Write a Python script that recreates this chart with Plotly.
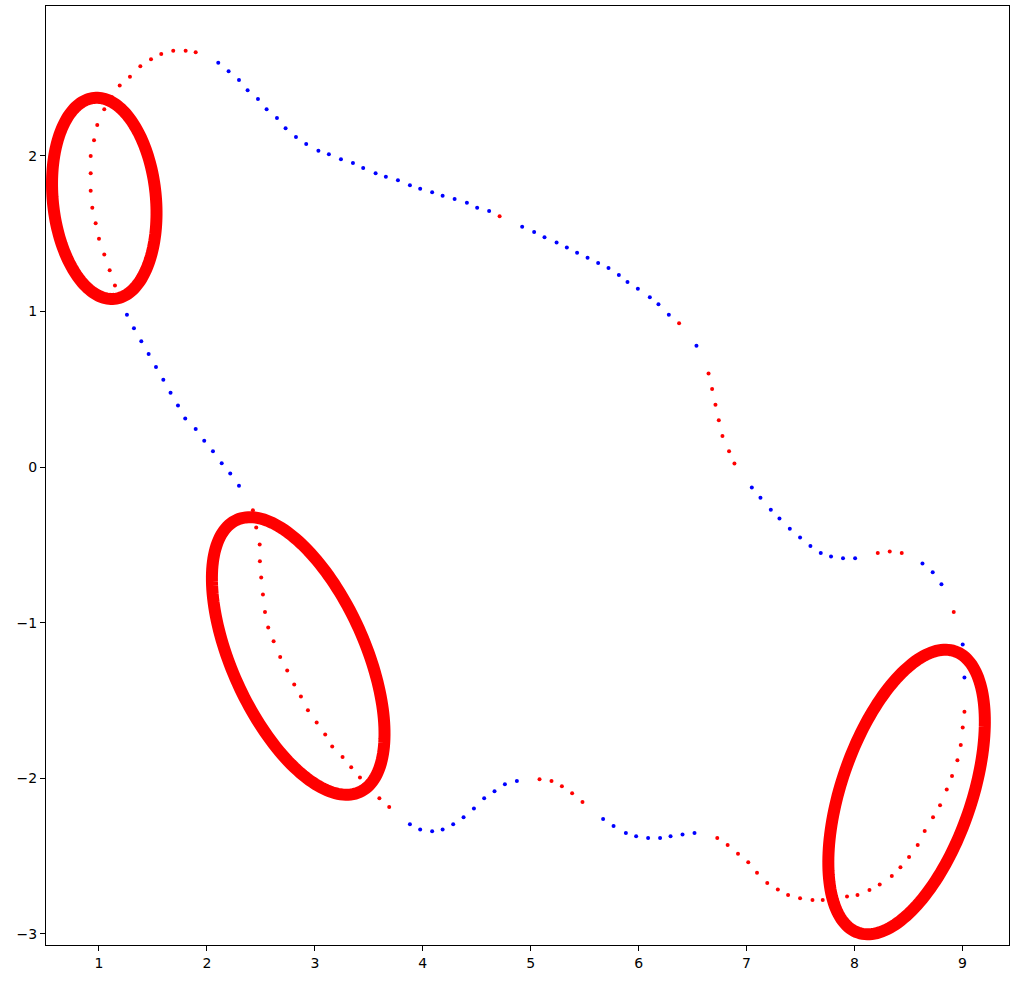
import numpy as np
import plotly.graph_objects as go

# ---------------- data ----------------
red_x = [1.896, 1.803, 1.688, 1.577, 1.482, 1.383, 1.287, 1.192, 1.120, 1.049,
         0.984, 0.954, 0.923, 0.923, 0.923, 0.938, 0.969, 1.000, 1.049, 1.099, 1.148,
         4.712, 6.375,
         6.648, 6.681, 6.712, 6.743, 6.777, 6.838, 6.888,
         8.216, 8.327, 8.438, 8.920,
         9.019, 9.003, 8.985, 8.954, 8.904, 8.855, 8.793, 8.728, 8.651, 8.586,
         8.506, 8.426, 8.346, 8.234, 8.139, 8.028, 7.931, 7.818, 7.706, 7.611,
         7.496, 7.385, 7.290, 7.192, 7.097, 7.016, 6.921, 6.825, 6.729,
         5.082, 5.193, 5.289, 5.384, 5.480,
         2.426, 2.457, 2.489, 2.491, 2.503, 2.519, 2.538, 2.568, 2.618, 2.679,
         2.744, 2.809, 2.871, 2.936, 3.017, 3.096, 3.161, 3.257, 3.337, 3.418,
         3.504, 3.598, 3.689]
red_y = [2.665, 2.675, 2.675, 2.654, 2.620, 2.575, 2.508, 2.452, 2.375, 2.298,
         2.197, 2.099, 1.998, 1.887, 1.775, 1.666, 1.566, 1.467, 1.366, 1.265, 1.167,
         1.611, 0.923,
         0.601, 0.501, 0.400, 0.301, 0.200, 0.102, 0.023,
         -0.553, -0.543, -0.553, -0.931,
         -1.573, -1.674, -1.786, -1.884, -1.985, -2.072, -2.173, -2.250, -2.338, -2.428,
         -2.505, -2.572, -2.627, -2.683, -2.717, -2.750, -2.760, -2.779, -2.782, -2.782,
         -2.771, -2.750, -2.715, -2.672, -2.606, -2.539, -2.484, -2.428, -2.383,
         -2.006, -2.017, -2.051, -2.096, -2.152,
         -0.277, -0.388, -0.498, -0.605, -0.710, -0.819, -0.931, -1.031, -1.119, -1.220,
         -1.307, -1.397, -1.474, -1.562, -1.642, -1.719, -1.796, -1.863, -1.929, -1.995,
         -2.062, -2.128, -2.184]

blue_x = [2.105, 2.201, 2.297, 2.377, 2.473, 2.553, 2.649, 2.729, 2.825, 2.920,
          3.033, 3.130, 3.242, 3.353, 3.448, 3.563, 3.658, 3.770, 3.881, 3.976,
          4.087, 4.184, 4.295, 4.409, 4.504, 4.615,
          4.921, 5.032, 5.128, 5.240, 5.335, 5.430, 5.527, 5.625, 5.721, 5.817,
          5.897, 5.993, 6.104, 6.184, 6.280, 6.536,
          7.049, 7.129, 7.225, 7.305, 7.401, 7.496, 7.592, 7.688, 7.783, 7.894, 8.006,
          8.630, 8.725, 8.806, 9.003, 9.010, 9.019,
          3.881, 3.976, 4.087, 4.184, 4.282, 4.378, 4.474, 4.569, 4.665, 4.761, 4.872,
          5.671, 5.768, 5.882, 5.977, 6.088, 6.199, 6.296, 6.407, 6.518,
          1.259, 1.324, 1.392, 1.460, 1.528, 1.596, 1.663, 1.732, 1.799, 1.896,
          1.975, 2.056, 2.137, 2.216, 2.297]
blue_y = [2.598, 2.542, 2.487, 2.420, 2.364, 2.298, 2.242, 2.176, 2.120, 2.075,
          2.032, 2.009, 1.977, 1.953, 1.921, 1.887, 1.865, 1.842, 1.810, 1.788,
          1.765, 1.743, 1.722, 1.698, 1.666, 1.645,
          1.544, 1.510, 1.477, 1.443, 1.411, 1.377, 1.344, 1.310, 1.278, 1.233,
          1.188, 1.145, 1.090, 1.045, 0.978, 0.779,
          -0.131, -0.198, -0.275, -0.330, -0.397, -0.453, -0.508, -0.553, -0.575, -0.586, -0.586,
          -0.620, -0.676, -0.753, -1.140, -1.243, -1.352,
          -2.295, -2.329, -2.340, -2.329, -2.295, -2.250, -2.194, -2.128, -2.083, -2.038, -2.017,
          -2.261, -2.306, -2.351, -2.372, -2.383, -2.383, -2.372, -2.361, -2.351,
          0.978, 0.891, 0.808, 0.726, 0.643, 0.560, 0.477, 0.395, 0.312, 0.245,
          0.168, 0.102, 0.025, -0.041, -0.121]

x_ticks = [1, 2, 3, 4, 5, 6, 7, 8, 9]
y_ticks = [-3, -2, -1, 0, 1, 2]
y_ticktext = ["\u22123", "\u22122", "\u22121", "0", "1", "2"]

# annotation ellipses: centre (data units), semi-axes (px), tilt in degrees (+ = top leans left)
ell_cx = [1.049, 2.846, 8.483]
ell_cy = [1.726, -1.214, -2.088]
ell_a = [101.0, 149.3, 148.8]
ell_b = [51.5, 66.5, 65.0]
ell_tilt = [5.8, 24.3, -19.0]

# ---------------- layout geometry ----------------
W, H = 1026, 984
ML, MR, MT, MB = 46, 17, 6, 39
XR = [0.509, 9.432]
YR = [-3.071, 2.962]
px_x = (W - ML - MR) / (XR[1] - XR[0])
px_y = (H - MT - MB) / (YR[1] - YR[0])


def ellipse_path(cx, cy, a, b, tilt):
    th = np.radians(tilt)
    t = np.linspace(0, 2 * np.pi, 181)
    ux, uy = -np.sin(th), np.cos(th)
    vx, vy = np.cos(th), np.sin(th)
    dx = a * np.cos(t) * ux + b * np.sin(t) * vx
    dy = a * np.cos(t) * uy + b * np.sin(t) * vy
    xs = cx + dx / px_x
    ys = cy + dy / px_y
    pts = [f"{x:.5f},{y:.5f}" for x, y in zip(xs, ys)]
    return "M " + " L ".join(pts) + " Z"


fig = go.Figure()
fig.add_trace(go.Scatter(x=blue_x, y=blue_y, mode="markers",
                         marker=dict(color="#0000ff", size=4, line=dict(width=0)),
                         showlegend=False, hoverinfo="skip"))
fig.add_trace(go.Scatter(x=red_x, y=red_y, mode="markers",
                         marker=dict(color="#ff0000", size=4, line=dict(width=0)),
                         showlegend=False, hoverinfo="skip"))

shapes = []
for cx, cy, a, b, tl in zip(ell_cx, ell_cy, ell_a, ell_b, ell_tilt):
    shapes.append(dict(type="path", xref="x", yref="y", path=ellipse_path(cx, cy, a, b, tl),
                       line=dict(color="#ff0000", width=12), fillcolor="rgba(0,0,0,0)",
                       layer="above"))

axis_common = dict(showgrid=False, zeroline=False, showline=True, linecolor="#000000",
                   linewidth=1, mirror=True, ticks="outside", ticklen=5, tickwidth=1,
                   tickcolor="#000000",
                   tickfont=dict(family="DejaVu Sans", size=14, color="#000000"))

fig.update_layout(
    width=W, height=H,
    margin=dict(l=ML, r=MR, t=MT, b=MB, pad=0),
    paper_bgcolor="white", plot_bgcolor="white",
    shapes=shapes,
    xaxis=dict(range=XR, tickvals=x_ticks, ticktext=[str(v) for v in x_ticks], **axis_common),
    yaxis=dict(range=YR, tickvals=y_ticks, ticktext=y_ticktext, **axis_common),
)

fig.write_html("out.html", config={"displayModeBar": False},
               post_script="document.body.style.margin='0px';document.body.style.overflow='hidden';")
